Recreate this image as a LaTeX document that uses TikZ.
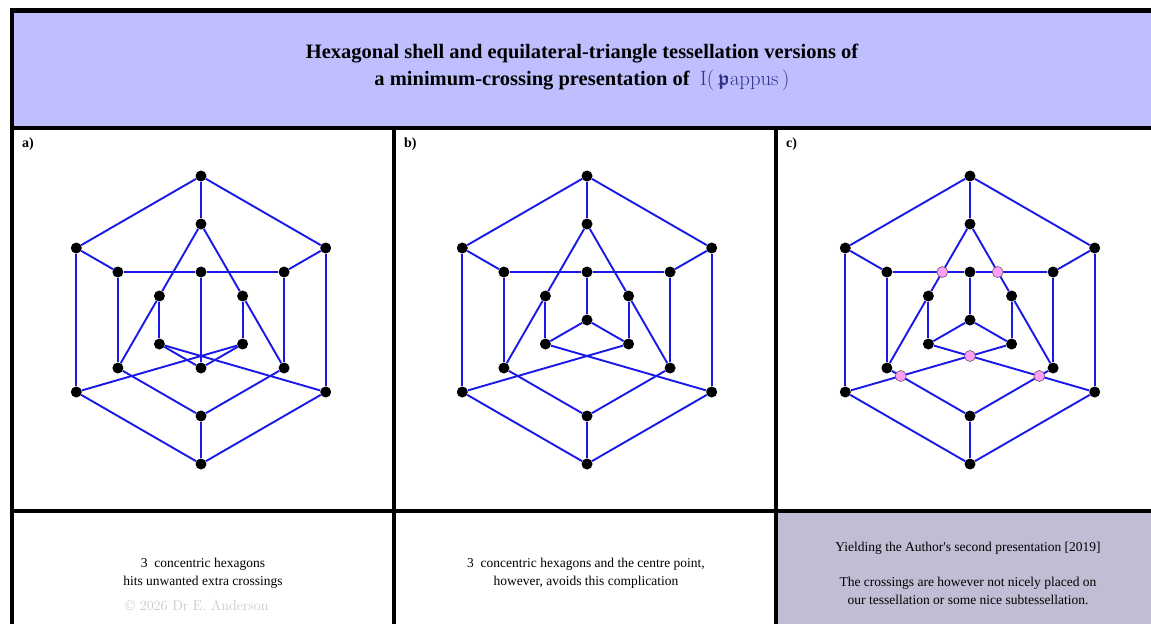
\documentclass[tikz,border=0pt]{standalone}
\usepackage{amsmath,amssymb}
\usepackage[no-math]{fontspec}
\setmainfont{Liberation Serif}

\definecolor{titlefill}{RGB}{191,191,255}
\definecolor{notefill}{RGB}{192,190,212}
\definecolor{linkblue}{RGB}{24,24,232}
\definecolor{xingpink}{RGB}{252,160,248}
\definecolor{xingrim}{RGB}{110,80,110}
\definecolor{fraktblue}{RGB}{50,50,135}
\definecolor{faint}{RGB}{200,200,200}

\pgfdeclarelayer{edgelayer}
\pgfsetlayers{edgelayer,main}

\tikzset{
  vtx/.style={circle,fill=black,inner sep=0pt,minimum size=11pt},
  xing/.style={circle,fill=xingpink,draw=xingrim,line width=0.6pt,inner sep=0pt,minimum size=11pt},
  link/.style={draw=linkblue,line width=1.9pt},
  frame/.style={line width=4.5pt,black},
  titletext/.style={font=\fontsize{20.5}{27}\selectfont\bfseries,anchor=base,inner sep=0pt},
  notetext/.style={font=\fontsize{13.5}{18}\selectfont,anchor=base,inner sep=0pt},
  panellabel/.style={font=\fontsize{14}{16}\selectfont\bfseries,anchor=base west,inner sep=0pt}
}

% vertices common to every panel: outer and middle hexagons, five inner points
\newcommand\shellvertices{%
  \node[vtx] (O90)  at (0,-144) {};
  \node[vtx] (O150) at (-124.7,-72) {};
  \node[vtx] (O210) at (-124.7,72) {};
  \node[vtx] (O270) at (0,144) {};
  \node[vtx] (O330) at (124.7,72) {};
  \node[vtx] (O30)  at (124.7,-72) {};
  \node[vtx] (M90)  at (0,-96) {};
  \node[vtx] (M150) at (-83.1,-48) {};
  \node[vtx] (M210) at (-83.1,48) {};
  \node[vtx] (M270) at (0,96) {};
  \node[vtx] (M330) at (83.1,48) {};
  \node[vtx] (M30)  at (83.1,-48) {};
  \node[vtx] (I90)  at (0,-48) {};
  \node[vtx] (I150) at (-41.6,-24) {};
  \node[vtx] (I210) at (-41.6,24) {};
  \node[vtx] (I330) at (41.6,24) {};
  \node[vtx] (I30)  at (41.6,-24) {};
}

% edges common to every panel, one connector per path
\newcommand\shelledges{%
  \foreach \u/\v in {O90/O150,O150/O210,O210/O270,O270/O330,O330/O30,O30/O90,
                     O90/M90,O150/M150,O30/M30,O270/M270,O210/I330,O330/I210,
                     M150/I90,I90/M30,M150/M210,M30/M330,
                     M90/I150,I150/M210,M90/I30,I30/M330,
                     I150/I210,I30/I330,M210/M270,M330/M270}
    {\draw[link] (\u) -- (\v);}%
}

\begin{document}
\begin{tikzpicture}[x=1pt,y=-1pt]
  \useasboundingbox (0,0) rectangle (1151,624);
  \clip (0,0) rectangle (1151,624);

  % backgrounds of the title band and of the last note cell
  \fill[titlefill] (12,10.5) rectangle (1151,128);
  \fill[notefill] (776,511) rectangle (1151,624);

  % frame and dividers
  \draw[frame] (1151,10.5) -- (12,10.5) -- (12,624);
  \draw[frame] (12,128) -- (1151,128);
  \draw[frame] (12,511) -- (1151,511);
  \draw[frame] (394,128) -- (394,624);
  \draw[frame] (776,128) -- (776,624);

  % title
  \node[titletext] (title1) at (582,58)
    {Hexagonal shell and equilateral-triangle tessellation versions of};
  \node[titletext] (title2) at (582,85)
    {a minimum-crossing presentation of\enspace
     \textcolor{fraktblue}{$\mathrm{I}(\,\boldsymbol{\mathfrak{p}}\mathrm{appus}\,)$}};

  % panel labels
  \node[panellabel] (la) at (22,147) {a)};
  \node[panellabel] (lb) at (404,147) {b)};
  \node[panellabel] (lc) at (786,147) {c)};

  % a) three concentric hexagons
  \begin{scope}[shift={(201,320)},name prefix=a-]
    \shellvertices
    \node[vtx] (I270) at (0,48) {};
    \begin{pgfonlayer}{edgelayer}
      \shelledges
      \draw[link] (I210) -- (I270);
      \draw[link] (I330) -- (I270);
      \draw[link] (I90) -- (I270);
    \end{pgfonlayer}
  \end{scope}

  % b) three concentric hexagons and the centre point
  \begin{scope}[shift={(587,320)},name prefix=b-]
    \shellvertices
    \node[vtx] (C) at (0,0) {};
    \begin{pgfonlayer}{edgelayer}
      \shelledges
      \draw[link] (I90) -- (C);
      \draw[link] (C) -- (I210);
      \draw[link] (C) -- (I330);
    \end{pgfonlayer}
  \end{scope}

  % c) the same drawing with its five crossings marked
  \begin{scope}[shift={(970,320)},name prefix=c-]
    \shellvertices
    \node[vtx] (C) at (0,0) {};
    \begin{pgfonlayer}{edgelayer}
      \shelledges
      \draw[link] (I90) -- (C);
      \draw[link] (C) -- (I210);
      \draw[link] (C) -- (I330);
    \end{pgfonlayer}
    \node[xing] (X1) at (-27.7,-48) {};
    \node[xing] (X2) at (27.7,-48) {};
    \node[xing] (X3) at (0,36) {};
    \node[xing] (X4) at (-69.3,56) {};
    \node[xing] (X5) at (69.3,56) {};
  \end{scope}

  % notes under the panels
  \node[notetext] (na1) at (203,567) {3\ \ concentric hexagons};
  \node[notetext] (na2) at (203,585) {hits unwanted extra crossings};
  \node[notetext,text=faint,font=\fontfamily{lmr}\fontsize{14.2}{18}\selectfont]
    (copy) at (197,610) {\textcopyright\ 2026\ Dr E. Anderson};

  \node[notetext] (nb1) at (586,567) {3\ \ concentric hexagons and the centre point,};
  \node[notetext] (nb2) at (586,585) {however, avoids this complication};

  \node[notetext] (nc1) at (968,551) {Yielding the Author\textquotesingle s second presentation [2019]};
  \node[notetext] (nc2) at (968,586) {The crossings are however not nicely placed on};
  \node[notetext] (nc3) at (968,604) {our tessellation or some nice subtessellation.};
\end{tikzpicture}
\end{document}
